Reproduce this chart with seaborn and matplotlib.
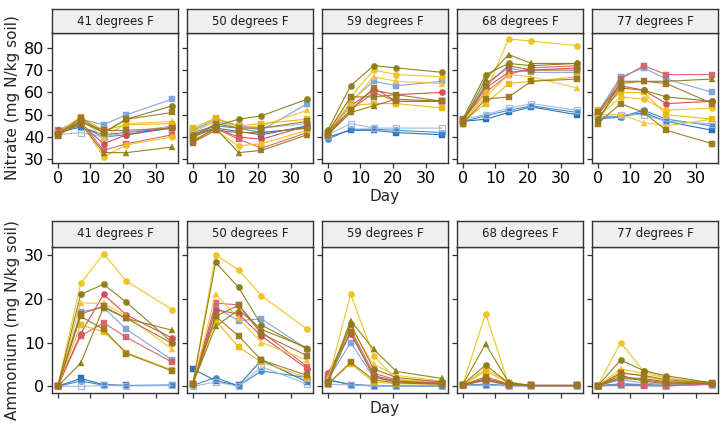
import matplotlib
matplotlib.use("Agg")
import matplotlib.pyplot as plt
import seaborn as sns
import pandas as pd
import numpy as np

sns.set_theme(style="white")
plt.rcParams['font.family'] = ['DejaVu Sans']

days = [0, 7, 14, 21, 35]
temps = ["41 degrees F", "50 degrees F", "59 degrees F", "68 degrees F", "77 degrees F"]
series = ["S01", "S02", "S03", "S04", "S05", "S06", "S07", "S08", "S09", "S10", "S11", "S12", "S13"]
colors = ["#1f6cb8", "#3d85c6", "#9fb6dc", "#7aa3dc", "#d1494e", "#d8606b", "#efc21b",
          "#f4c430", "#e9b90e", "#8b7b14", "#8d7e0f", "#9a7b18", "#a0742a"]
markers = ["s", "o", "s", "s", "o", "s", "o", "^", "s", "o", "^", "s", "s"]
hollow = [False, False, True, False, False, False, False, False, False, False, False, False, False]

# Nitrate (mg N/kg soil), rows = series, cols = days
nitrate_41F = [[42, 44.5, 41, 42, 44], [43, 45, 40, 41, 44], [41, 42, 40, 42, 45], [43, 48, 45.5, 50, 57],
               [43, 46, 37, 41, 44.5], [42, 47, 34, 37, 41], [42, 47, 31, 36.5, 40], [41, 48, 40, 46, 47],
               [42, 49, 43, 45.5, 46], [42, 47, 42, 48, 54], [41, 46, 33, 33, 35.5], [41, 48.5, 42, 48, 51],
               [40.5, 47, 43, 43, 44]]
nitrate_50F = [[41, 44, 42.5, 41, 45], [42, 45, 44, 42, 44], [43, 47, 45, 44, 46], [43, 48, 45, 43, 55],
               [40, 44, 40, 39, 45], [38, 44, 39, 35, 42], [39, 43, 36, 37, 43], [42, 47, 44, 45, 52],
               [44, 48.5, 45, 46, 48], [41, 45, 48, 49.5, 57], [38, 44, 33, 34, 41], [40, 46, 44, 44, 47],
               [37.5, 43, 42, 42, 44]]
nitrate_59F = [[40, 43, 43, 42, 41], [39, 43.5, 43.5, 43, 42], [41, 46, 44, 44, 44], [40, 56, 65, 63, 65],
               [42, 54, 61, 59, 60], [41, 52, 60, 56, 56], [42, 58, 70, 68, 67], [43, 55, 67, 65, 64],
               [42, 54, 55, 55, 53], [43, 63, 72, 71, 69], [41, 51, 54, 57, 56], [42, 58, 58, 59, 56],
               [42, 52, 62, 56, 56]]
nitrate_68F = [[47, 48, 51, 53.5, 50], [47, 49.5, 52, 54, 51], [48, 50, 53, 55, 52], [47, 64, 71, 69, 69],
               [47, 62, 69, 70, 71], [48, 60, 68, 71, 72], [46, 60, 84, 83, 81], [47, 58, 68, 67, 62],
               [47, 55, 64, 65, 67], [48, 68, 73, 72, 73], [47, 66, 77, 73, 73], [46, 57, 58, 65, 66],
               [47, 63, 72, 70, 70]]
nitrate_77F = [[49, 49, 51, 47, 43], [48, 49, 52, 48, 45], [50, 50, 50, 47, 46], [51, 67, 71, 66, 60],
               [50, 63, 61, 55, 56], [50, 66, 72, 68, 68], [49, 58, 57, 52, 53], [50, 50, 46.5, 45, 48],
               [52, 60, 60, 50, 48], [48, 62, 61, 58, 56], [47, 65, 65, 65, 66], [46, 55, 51, 43, 37],
               [51, 64, 65, 64, 55]]

# Ammonium (mg N/kg soil)
ammonium_41F = [[0, 1.8, 0.4, 0.2, 0.3], [0, 1.2, 0.3, 0.2, 0.2], [0, 0, 0.2, 0.1, 0.2], [0, 17, 18, 13, 6],
                [0, 12, 21, 16.3, 11], [0, 11.5, 14.5, 11.2, 5.5], [0, 23.5, 30.3, 24, 17.5], [0, 19, 19, 16, 8.5],
                [0, 14, 12.5, 7.7, 3.7], [0, 21, 23.3, 19.2, 10], [0, 5.3, 18, 15.5, 12.8], [0, 16, 13, 7.5, 3.5],
                [0, 16.5, 18.3, 15.5, 9.8]]
ammonium_50F = [[4, 1.3, 0.2, 6, 1], [0.2, 2, 0.1, 3.5, 2], [0, 1, 0, 4.5, 0.5], [0.5, 18, 15, 15.4, 8.5],
                [0.5, 17.5, 16.5, 11.5, 4], [0.5, 19, 18.6, 12.5, 4.5], [0.5, 30, 26.6, 20.7, 13],
                [0.5, 21, 15.5, 10, 6], [0.5, 15, 9, 5.5, 2], [0.5, 28.3, 22.6, 14, 8.5],
                [0.5, 13.7, 17.5, 13, 8.8], [0.5, 16, 11.5, 6, 2.5], [0.5, 16, 18.5, 12, 7]]
ammonium_59F = [[1.5, 0.4, 0.1, 0.1, 0.1], [1.5, 0.4, 0.2, 0.1, 0.1], [0.5, 0.3, 0.1, 0.1, 0.1],
                [1.5, 10, 2, 1, 0.5], [3, 12, 2.5, 1.2, 0.7], [2.7, 13, 3, 1.5, 0.8], [1, 21, 7, 1.5, 1],
                [2, 13.5, 5, 2.5, 1.2], [0.5, 5.2, 1, 0.6, 0.5], [1, 14.2, 4, 2, 1], [1.2, 15, 8.5, 3.4, 1.8],
                [0.5, 5.5, 1.5, 0.8, 0.5], [1, 12.5, 2.2, 1, 0.6]]
ammonium_68F = [[0.3, 0.3, 0.2, 0.1, 0.1], [0.3, 0.5, 0.2, 0.1, 0.1], [0.2, 0.3, 0.1, 0.1, 0.1],
                [0.3, 1.5, 0.3, 0.2, 0.2], [0.3, 1.8, 0.4, 0.2, 0.2], [0.3, 1.3, 0.3, 0.2, 0.2],
                [0.4, 16.6, 0.6, 0.2, 0.2], [0.3, 4.0, 1.0, 0.2, 0.2], [0.3, 3.5, 0.8, 0.2, 0.2],
                [0.4, 4.9, 0.7, 0.2, 0.2], [0.4, 9.7, 0.9, 0.2, 0.2], [0.3, 2.2, 0.5, 0.2, 0.2],
                [0.3, 1.5, 0.4, 0.2, 0.2]]
ammonium_77F = [[0.1, 0.5, 0.3, 0.2, 0.5], [0.1, 0.6, 0.4, 0.2, 0.5], [0.1, 0.3, 0.2, 0.1, 0.4],
                [0.1, 1.5, 0.8, 0.4, 0.6], [0.1, 2.5, 1.2, 0.6, 0.6], [0.1, 0.2, 0.1, 0.1, 0.5],
                [0.1, 10.0, 3.5, 2.0, 0.7], [0.1, 4.0, 3.0, 1.8, 0.8], [0.1, 3.3, 2.3, 1.2, 0.7],
                [0.1, 6.0, 3.6, 2.4, 0.8], [0.1, 2.0, 1.8, 1.0, 0.7], [0.1, 1.8, 1.5, 0.8, 0.6],
                [0.1, 3.0, 2.5, 1.5, 0.8]]

nitrate = [nitrate_41F, nitrate_50F, nitrate_59F, nitrate_68F, nitrate_77F]
ammonium = [ammonium_41F, ammonium_50F, ammonium_59F, ammonium_68F, ammonium_77F]

def to_long(tables, measure):
    rows = []
    for t, tab in zip(temps, tables):
        for s, vals in zip(series, tab):
            for d, v in zip(days, vals):
                rows.append(dict(Temp=t, Series=s, Day=d, Value=v, Measure=measure))
    return pd.DataFrame(rows)

df = pd.concat([to_long(nitrate, "Nitrate"), to_long(ammonium, "Ammonium")], ignore_index=True)

W, H = 725, 425
fig = plt.figure(figsize=(W / 100, H / 100), dpi=100)

lefts = [52, 187, 322, 457, 592]
pw = 126
rows_cfg = [
    dict(measure="Nitrate", strip_top=9, top=33, bottom=163, yticks=[30, 40, 50, 60, 70, 80],
         ylabel="Nitrate (mg N/kg soil)", xlabels=True, day_y=196),
    dict(measure="Ammonium", strip_top=221, top=247, bottom=393, yticks=[0, 10, 20, 30],
         ylabel="Ammonium (mg N/kg soil)", xlabels=False, day_y=409),
]

def fy(ypix):
    return 1 - ypix / H

border = "#333333"
for rc in rows_cfg:
    sub = df[df.Measure == rc["measure"]]
    vmin, vmax = sub.Value.min(), sub.Value.max()
    pad = (vmax - vmin) * 0.05
    ylim = (vmin - pad, vmax + pad)
    xlim = (-35 * 0.05, 35 * 1.05)
    for i, t in enumerate(temps):
        ax = fig.add_axes([lefts[i] / W, fy(rc["bottom"]), pw / W, (rc["bottom"] - rc["top"]) / H])
        d_t = sub[sub.Temp == t]
        for s, c, m, ho in zip(series, colors, markers, hollow):
            ds = d_t[d_t.Series == s]
            sns.lineplot(data=ds, x="Day", y="Value", ax=ax, color=c, marker=m,
                         markersize=4.5 if m != "^" else 5,
                         markerfacecolor="none" if ho else c,
                         markeredgecolor=c, markeredgewidth=0.9 if ho else 0.3,
                         linewidth=0.8, alpha=0.95, legend=False)
        ax.set_xlim(xlim)
        ax.set_ylim(ylim)
        ax.set_xticks([0, 10, 20, 30])
        ax.set_yticks(rc["yticks"])
        ax.set_xlabel("")
        ax.set_ylabel("")
        ax.tick_params(axis="both", which="both", length=3.5, width=0.9, color=border,
                       labelsize=11.5, pad=2, bottom=True, left=True, labelcolor="black")
        if not rc["xlabels"]:
            ax.set_xticklabels([])
        if i > 0:
            ax.set_yticklabels([])
        for sp in ax.spines.values():
            sp.set_color(border)
            sp.set_linewidth(1.0)
        ax.set_facecolor("white")
        # strip
        sax = fig.add_axes([lefts[i] / W, fy(rc["top"]), pw / W, (rc["top"] - rc["strip_top"]) / H])
        sax.set_facecolor("#efefef")
        sax.set_xticks([])
        sax.set_yticks([])
        for sp in sax.spines.values():
            sp.set_color(border)
            sp.set_linewidth(1.0)
        sax.text(0.5, 0.5, t, ha="center", va="center", fontsize=8.5, color="#1a1a1a",
                 transform=sax.transAxes)
    fig.text((lefts[0] + lefts[-1] + pw) / 2 / W, fy(rc["day_y"]), "Day", ha="center", va="center",
             fontsize=11)
    fig.text(13 / W, fy((rc["top"] + rc["bottom"]) / 2 - (0 if rc["measure"] == "Nitrate" else 0)),
             rc["ylabel"], rotation=90, ha="center", va="center", fontsize=11)

fig.savefig("out.png", dpi=100)
